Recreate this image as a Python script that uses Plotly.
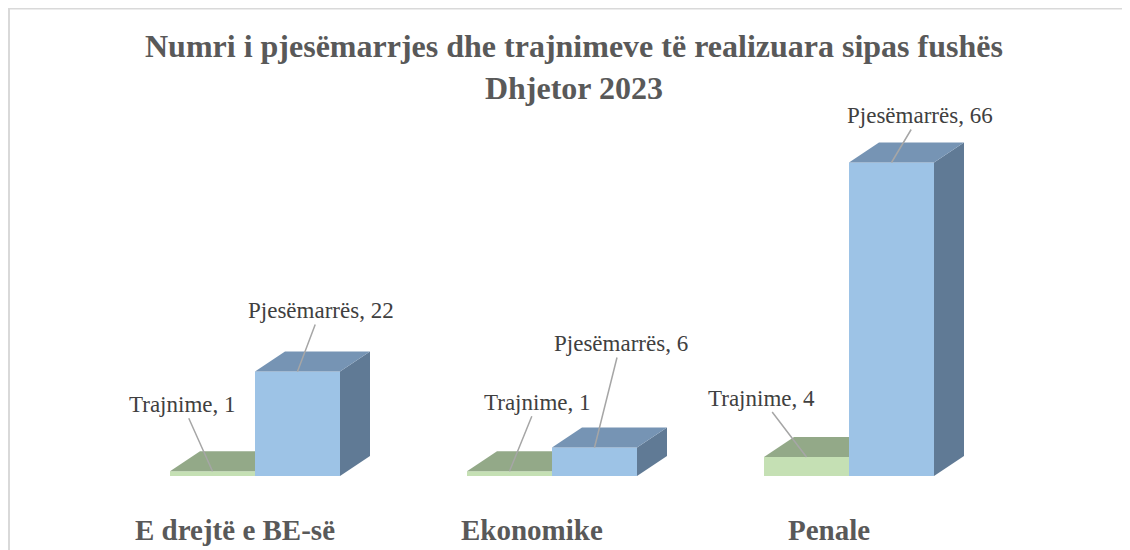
import plotly.graph_objects as go

# data
categories = ["E drejtë e BE-së", "Ekonomike", "Penale"]
series_names = ["Trajnime", "Pjesëmarrës"]
trajnime = [1, 1, 4]
pjesemarres = [22, 6, 66]

# label offsets (pixels) for the data labels: (dx, dy) per category
trajnime_offsets = [(-30, -67), (28, -69), (-45, -59)]
pjesemarres_offsets = [(23, -61), (26, -104), (28, -47)]

colors = {
    'green_front': '#C5E0B4',
    'green_top': '#93A988',
    'blue_front': '#9DC3E6',
    'blue_top': '#7694B4',
    'blue_side': '#607A95',
    'leader': '#A6A6A6',
    'label': '#404040',
    'title': '#595959',
    'border': '#D9D9D9',
}

W, H = 1130, 550
# pixel geometry of the fake 3d look (page is offset 8px by body margin)
px_unit_x = 297      # pixels between categories
origin_x = 247       # pixel of the first category
base_y = 468         # pixel of value 0
px_unit_y = 4.75     # pixels per value unit
bar_w = 85 / px_unit_x
depth_x = 30 / px_unit_x
depth_y = 20 / px_unit_y

x_range = [-origin_x / px_unit_x, (W - origin_x) / px_unit_x]
y_range = [-(H - base_y) / px_unit_y, base_y / px_unit_y]


def top_face(x0, v, clip=False):
    x1 = x0 + bar_w
    if clip:
        # the part behind the next bar is hidden
        return ([x0, x1, x1, x0 + depth_x, x0],
                [v, v, v + depth_y, v + depth_y, v])
    return ([x0, x1, x1 + depth_x, x0 + depth_x, x0],
            [v, v, v + depth_y, v + depth_y, v])


def side_face(x0, v):
    x1 = x0 + bar_w
    return ([x1, x1 + depth_x, x1 + depth_x, x1, x1],
            [0, depth_y, v + depth_y, v, 0])


fig = go.Figure()

idx = list(range(len(categories)))
green_x = [i - bar_w / 2 for i in idx]
blue_x = [i + bar_w / 2 for i in idx]

faces = []
for cx, v in zip(green_x, trajnime):
    faces.append((top_face(cx - bar_w / 2, v, clip=True), colors['green_top']))
for cx, v in zip(blue_x, pjesemarres):
    faces.append((side_face(cx - bar_w / 2, v), colors['blue_side']))
    faces.append((top_face(cx - bar_w / 2, v), colors['blue_top']))

for (fx, fy), c in faces:
    fig.add_trace(go.Scatter(
        x=fx, y=fy, fill='toself', fillcolor=c, mode='lines',
        line=dict(width=0, color=c), hoverinfo='skip', showlegend=False
    ))

# front faces
fig.add_trace(go.Bar(
    x=green_x, y=trajnime, width=bar_w, name=series_names[0],
    marker=dict(color=colors['green_front'], line=dict(width=0)),
    customdata=categories, hovertemplate='%{customdata}: %{y}<extra>Trajnime</extra>'
))
fig.add_trace(go.Bar(
    x=blue_x, y=pjesemarres, width=bar_w, name=series_names[1],
    marker=dict(color=colors['blue_front'], line=dict(width=0)),
    customdata=categories, hovertemplate='%{customdata}: %{y}<extra>Pjesëmarrës</extra>'
))

annotations = []
# data labels with leader lines
for name, series_x, vals, offs in [
    (series_names[0], green_x, trajnime, trajnime_offsets),
    (series_names[1], blue_x, pjesemarres, pjesemarres_offsets),
]:
    for cx, v, (dx, dy) in zip(series_x, vals, offs):
        annotations.append(dict(
            x=cx, y=v, xref='x', yref='y', text=f"{name}, {v}",
            showarrow=True, arrowhead=0, arrowwidth=1.5, arrowcolor=colors['leader'],
            ax=dx, ay=dy, standoff=0,
            font=dict(family='Liberation Serif', size=23, color=colors['label'])
        ))

# category labels
label_y = (base_y - 522) / px_unit_y
for i, cat in zip(idx, categories):
    annotations.append(dict(
        x=i, y=label_y, xref='x', yref='y', text=f"<b>{cat}</b>",
        showarrow=False, xshift=-20,
        font=dict(family='Liberation Serif', size=29, color=colors['title'])
    ))

# title
annotations.append(dict(
    x=566 / W, y=1 - 18 / H, xref='paper', yref='paper', xanchor='center', yanchor='top',
    text="<b>Numri i pjesëmarrjes dhe trajnimeve të realizuara sipas fushës</b><br><b>Dhjetor 2023</b>",
    showarrow=False,
    font=dict(family='Liberation Serif', size=32, color=colors['title'])
))

fig.update_layout(
    width=W,
    height=H,
    margin=dict(t=0, l=0, r=0, b=0),
    paper_bgcolor='white',
    plot_bgcolor='white',
    barmode='overlay',
    showlegend=False,
    annotations=annotations,
    shapes=[dict(
        type='rect', xref='paper', yref='paper',
        x0=1 / W, x1=1.02, y0=-0.02, y1=1 - 0.5 / H,
        line=dict(color=colors['border'], width=2), layer='below'
    )],
)

fig.update_xaxes(visible=False, range=x_range, fixedrange=True)
fig.update_yaxes(visible=False, range=y_range, fixedrange=True)

fig.write_html("out.html")
